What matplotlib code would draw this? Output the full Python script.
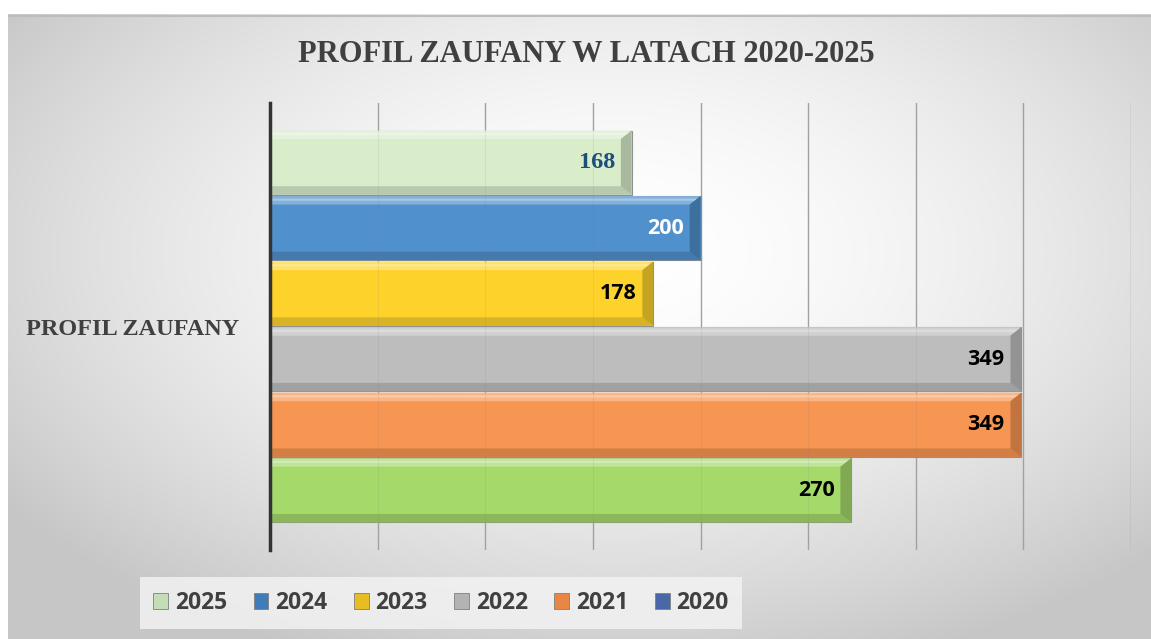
import numpy as np
import matplotlib
matplotlib.use("Agg")
import matplotlib.pyplot as plt
from matplotlib.patches import Polygon, Rectangle
from matplotlib.colors import to_rgb

# ---- data ----
title = "PROFIL ZAUFANY W LATACH 2020-2025"
category = "PROFIL ZAUFANY"
years = ["2020", "2021", "2022", "2023", "2024", "2025"]
values = [270, 349, 349, 178, 200, 168]
bar_colors = ["#A5D96A", "#F79552", "#BDBDBD", "#FDD22B", "#5090CC", "#D9EDCB"]
legend_colors = ["#4A68A8", "#E88646", "#B3B3B3", "#E6BE22", "#3F7DBA", "#C5DDB6"]
label_colors = ["#000000", "#000000", "#000000", "#000000", "#FFFFFF", "#1F4E79"]
x_max = 400
x_step = 50

W, H = 1151, 639
fig = plt.figure(figsize=(W / 100, H / 100), dpi=100)
fig.patch.set_facecolor("white")

# ---- background radial gradient (chart area) ----
bx0, by0 = 8 / W, 0
bg = fig.add_axes([bx0, by0, 1 - bx0, 1 - 14 / H], zorder=-10)
ny, nx = 300, 560
yy, xx = np.mgrid[0:ny, 0:nx]
cx, cy = nx * 0.53, ny * 0.38
r = np.sqrt(((xx - cx) / (nx * 0.62)) ** 2 + ((yy - cy) / (ny * 0.66)) ** 2)
r = np.clip(r / 1.05, 0, 1)
val = 1 - 0.22 * r ** 1.7
img = np.dstack([val, val, val])
bg.imshow(img, aspect="auto", extent=[0, 1, 0, 1], origin="upper")
bg.set_axis_off()
bg.plot([0, 1], [0.997, 0.997], color="#bdbdbd", lw=1.5, transform=bg.transAxes)

# ---- main axes ----
ax = fig.add_axes([270 / W, 1 - 550 / H, (1131 - 270) / W, (550 - 103) / H])
ax.set_facecolor("none")
ax.set_xlim(0, x_max)
n = len(values)
pad = 0.41
ax.set_ylim(-0.5 - pad, n - 0.5 + pad)

grid_x = np.arange(x_step, x_max + 1, x_step)
for gx in grid_x:
    ax.axvline(gx, color="#a6a6a6", lw=1.0, zorder=0.5)

bar_h = 0.98
def blend(c, t, amt):
    c = np.array(to_rgb(c)); t = np.array(to_rgb(t))
    return tuple(c * (1 - amt) + t * amt)

bxw = 5.0   # bevel in data x units
byw = 0.13  # bevel in data y units
for i, (v, col) in enumerate(zip(values, bar_colors)):
    ax.barh(i, v, height=bar_h, color=col, edgecolor="#909090", linewidth=0.8, zorder=2)
    top, bot = i + bar_h / 2, i - bar_h / 2
    ax.add_patch(Polygon([(0, top), (v, top), (v - bxw, top - byw), (0, top - byw)],
                         closed=True, facecolor=blend(col, "white", 0.3), edgecolor="none", zorder=2.1))
    ax.add_patch(Polygon([(0, top - byw * 0.3), (v - bxw * 0.3, top - byw * 0.3),
                          (v - bxw * 0.55, top - byw * 0.55), (0, top - byw * 0.55)],
                         closed=True, facecolor=blend(col, "white", 0.5), edgecolor="none", zorder=2.15))
    ax.add_patch(Polygon([(0, bot), (v, bot), (v - bxw, bot + byw), (0, bot + byw)],
                         closed=True, facecolor=blend(col, "black", 0.15), edgecolor="none", zorder=2.1))
    ax.add_patch(Polygon([(v, top), (v, bot), (v - bxw, bot + byw), (v - bxw, top - byw)],
                         closed=True, facecolor=blend(col, "black", 0.22), edgecolor="none", zorder=2.2))
    if i == n - 1:
        fam, fs = "Liberation Serif", 17.5
    else:
        fam, fs = "Open Sans", 15.5
    ax.annotate(str(v), xy=(v, i), xytext=(-12, 0), textcoords="offset points",
                ha="right", va="center", fontsize=fs, fontweight="bold",
                color=label_colors[i], family=fam, zorder=5)

# faint grid over bars
for gx in grid_x:
    ax.axvline(gx, color="#808080", lw=0.8, alpha=0.12, zorder=3)

for s in ["top", "right", "bottom"]:
    ax.spines[s].set_visible(False)
ax.spines["left"].set_color("#333333")
ax.spines["left"].set_linewidth(2.5)
ax.spines["left"].set_zorder(6)
ax.set_xticks(grid_x)
ax.tick_params(axis="x", length=0, labelbottom=False)
ax.set_yticks([(n - 1) / 2])
ax.set_yticklabels([category], family="Liberation Serif", fontweight="bold",
                   fontsize=17.5, color="#404040")
ax.tick_params(axis="y", length=0, pad=22)

# ---- title ----
fig.text(586 / W, 1 - 54 / H, title, ha="center", va="center",
         family="Liberation Serif", fontweight="bold", fontsize=22, color="#404040")

# ---- legend ----
handles = [Rectangle((0, 0), 1, 1, facecolor=legend_colors[k], edgecolor="#7f7f7f", linewidth=0.6)
           for k in range(n - 1, -1, -1)]
labels = [years[k] for k in range(n - 1, -1, -1)]
leg = fig.legend(handles, labels, loc="center", bbox_to_anchor=(441 / W, 1 - 603 / H),
                 ncol=n, frameon=True, fancybox=False, handlelength=0.65, handleheight=0.65,
                 handletextpad=0.3, columnspacing=1.15, borderpad=0.6, borderaxespad=0,
                 prop={"family": "Open Sans", "weight": "bold", "size": 16.5})
leg.get_frame().set_facecolor("#f2f2f2")
leg.get_frame().set_edgecolor("none")
leg.get_frame().set_alpha(0.85)
for t in leg.get_texts():
    t.set_color("#404040")

fig.savefig("out.png", dpi=100)
